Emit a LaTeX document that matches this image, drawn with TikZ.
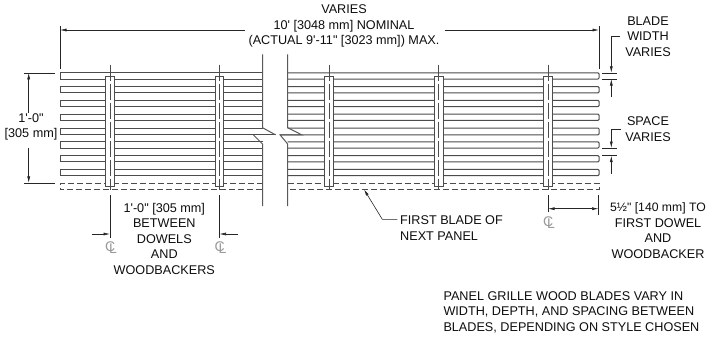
\documentclass[tikz,border=0pt]{standalone}
\usepackage{fontspec}
\setmainfont{Liberation Sans}[Ligatures=TeXOff]
\usetikzlibrary{arrows.meta}
\tikzset{
	blade/.style={line width=1pt, draw=black!70},
	bladeend/.style={blade, rounded corners=1pt},
	bladenext/.style={blade, dash pattern=on 6pt off 3pt},
	dowel/.style={line width=1pt, draw=black!70, fill=white},
	centerline/.style={line width=0.6pt, draw=black!70, dash pattern=on 16pt off 3pt},
	dimline/.style={line width=0.6pt, draw=black!85},
	dimtip/.style={dimline, -{Latex[length=6.5pt,width=3pt]}},
	breakline/.style={line width=1pt, draw=black!65},
	label/.style={inner sep=0pt, align=center, text=black!95, font=\fontsize{12.65}{15.5}\selectfont},
	clmark/.style={inner sep=0pt, text=black!40, font=\fontsize{14}{14}\selectfont}
}
\begin{document}
\begin{tikzpicture}[x=1pt,y=-1pt]
		\useasboundingbox (0,0) rectangle (707,338);
		
		\draw[blade] (262.5,72.8) -- (60,72.8) -- (60,79) -- (262.5,79);
		\draw[blade] (262.5,86.6) -- (60,86.6) -- (60,92.8) -- (262.5,92.8);
		\draw[blade] (262.5,100.4) -- (60,100.4) -- (60,106.6) -- (262.5,106.6);
		\draw[blade] (262.5,114.2) -- (60,114.2) -- (60,120.4) -- (262.5,120.4);
		\draw[blade] (262.5,128) -- (60,128) -- (60,134.8) -- (275.5,134.8);
		\draw[blade] (262.5,141.8) -- (60,141.8) -- (60,148) -- (262.5,148);
		\draw[blade] (262.5,155.6) -- (60,155.6) -- (60,161.8) -- (262.5,161.8);
		\draw[blade] (262.5,169.4) -- (60,169.4) -- (60,175.6) -- (262.5,175.6);
		\draw[bladenext] (262.5,183.2) -- (60,183.2) -- (60,189.4) -- (262.5,189.4);
		
		\draw[bladeend] (287.7,72.8) -- (599,72.8) -- (599,79) -- (287.7,79);
		\draw[bladeend] (287.7,86.6) -- (599,86.6) -- (599,92.8) -- (287.7,92.8);
		\draw[bladeend] (287.7,100.4) -- (599,100.4) -- (599,106.6) -- (287.7,106.6);
		\draw[bladeend] (287.7,114.2) -- (599,114.2) -- (599,120.4) -- (287.7,120.4);
		\draw[bladeend] (287.7,128) -- (599,128) -- (599,134.8) -- (280,134.8);
		\draw[bladeend] (287.7,141.8) -- (599,141.8) -- (599,148) -- (287.7,148);
		\draw[bladeend] (287.7,155.6) -- (599,155.6) -- (599,161.8) -- (287.7,161.8);
		\draw[bladeend] (287.7,169.4) -- (599,169.4) -- (599,175.6) -- (287.7,175.6);
		\draw[bladenext] (287.7,183.2) -- (599,183.2) -- (599,189.4) -- (287.7,189.4);
		
		\draw[dowel] (105.7,186.7) -- (105.7,76.3) -- (114.3,76.3) -- (114.3,186.7) -- cycle;
		\draw[dowel] (215.2,186.7) -- (215.2,76.3) -- (223.8,76.3) -- (223.8,186.7) -- cycle;
		\draw[dowel] (324.7,186.7) -- (324.7,76.3) -- (333.3,76.3) -- (333.3,186.7) -- cycle;
		\draw[dowel] (434.4,186.7) -- (434.4,76.3) -- (443,76.3) -- (443,186.7) -- cycle;
		\draw[dowel] (543.7,186.7) -- (543.7,76.3) -- (552.3,76.3) -- (552.3,186.7) -- cycle;
		
		\draw[centerline] (110,64.5) -- (110,190);
		\draw[centerline] (219.5,64.5) -- (219.5,190);
		\draw[centerline] (329,64.5) -- (329,190);
		\draw[centerline] (438.7,64.5) -- (438.7,190);
		\draw[centerline] (548,64.5) -- (548,190);
		
		\draw[breakline] (262.5,54.3) -- (262.5,127.7) -- (275.5,134.8);
		\draw[breakline] (253.3,134.8) -- (262.5,144) -- (262.5,206);
		\draw[breakline] (287.7,54.3) -- (287.7,127.7) -- (301.7,134.8) -- (280,134.8) -- (287.7,144) -- (287.7,206);
		
		\node[label] (panelwidth) at (344,26) {VARIES\\10' [3048 mm] NOMINAL\\(ACTUAL 9'-11" [3023 mm]) MAX.};
		\coordinate (widthleft) at (60,30);
		\coordinate (widthright) at (599,30);
		\coordinate (widthstartl) at (245,30);
		\coordinate (widthstartr) at (444.7,30);
		\draw[dimline] (60,26) -- (60,68.7);
		\draw[dimline] (599,26) -- (599,68.7);
		\draw[dimtip] (widthstartl) -- (widthleft);
		\draw[dimtip] (widthstartr) -- (widthright);
		
		\node[label] (panelheight) at (31,127) {1'-0"\\{[}305 mm]};
		\coordinate (heighttop) at (28.7,72.8);
		\coordinate (heightbottom) at (28.7,182.9);
		\draw[dimline] (24,72.8) -- (55,72.8);
		\draw[dimline] (24,182.9) -- (55,182.9);
		\draw[dimtip] (28.7,113) -- (heighttop);
		\draw[dimtip] (28.7,148) -- (heightbottom);
		
		\node[label] (bladewidth) at (648,36.5) {BLADE\\WIDTH\\VARIES};
		\coordinate (bladetop) at (611.3,72.8);
		\coordinate (bladebottom) at (611.3,79);
		\draw[dimline] (602,72.8) -- (616.7,72.8);
		\draw[dimline] (602,79) -- (616.7,79);
		\draw[dimtip] (619.5,36.7) -- (611.3,36.7) -- (bladetop);
		\draw[dimtip] (611.3,97) -- (bladebottom);
		
		\node[label] (spacevaries) at (648,129) {SPACE\\VARIES};
		\coordinate (spacetop) at (611.3,148);
		\coordinate (spacebottom) at (611.3,155.6);
		\draw[dimline] (602,148) -- (616.7,148);
		\draw[dimline] (602,155.6) -- (616.7,155.6);
		\draw[dimtip] (620.5,129.3) -- (611.3,129.3) -- (spacetop);
		\draw[dimtip] (611.3,174) -- (spacebottom);
		
		\node[label] (dowelgap) at (164.3,238.5) {1'-0" [305 mm]\\BETWEEN\\DOWELS\\AND\\WOODBACKERS};
		\coordinate (gapleft) at (110,234);
		\coordinate (gapright) at (219.5,234);
		\draw[dimline] (110,195) -- (110,238);
		\draw[dimline] (219.5,195) -- (219.5,238);
		\draw[dimtip] (91.7,234) -- (gapleft);
		\draw[dimtip] (238.3,234) -- (gapright);
		
		\node[clmark] (clleft) at (111,247.5) {C\kern-0.45em\lower2pt\hbox{L}};
		\node[clmark] (clmid) at (220.5,247.5) {C\kern-0.45em\lower2pt\hbox{L}};
		\node[clmark] (clright) at (549,222.5) {C\kern-0.45em\lower2pt\hbox{L}};
		
		\node[label] (firstdowel) at (658,230.5) {\fontsize{12.2}{15.5}\selectfont 5½" [140 mm] TO\\FIRST DOWEL\\AND\\WOODBACKER};
		\coordinate (enddowel) at (548,208.7);
		\coordinate (endpanel) at (598.5,208.7);
		\draw[dimline] (548,195) -- (548,212);
		\draw[dimline] (598.5,195) -- (598.5,215);
		\draw[dimline, {Latex[length=6.5pt,width=3pt]}-{Latex[length=6.5pt,width=3pt]}] (enddowel) -- (endpanel);
		
		\node[label, anchor=west, align=left] (nextpanel) at (400,228) {FIRST BLADE OF\\NEXT PANEL};
		\coordinate (nextblade) at (364,189.4);
		\draw[dimtip] (397.3,219.3) -- (382.3,219.3) -- (nextblade);
		
		\node[label, anchor=west, align=left] (note) at (443.3,312) {PANEL GRILLE WOOD BLADES VARY IN\\WIDTH, DEPTH, AND SPACING BETWEEN\\BLADES, DEPENDING ON STYLE CHOSEN};
		
	\end{tikzpicture}
\end{document}
